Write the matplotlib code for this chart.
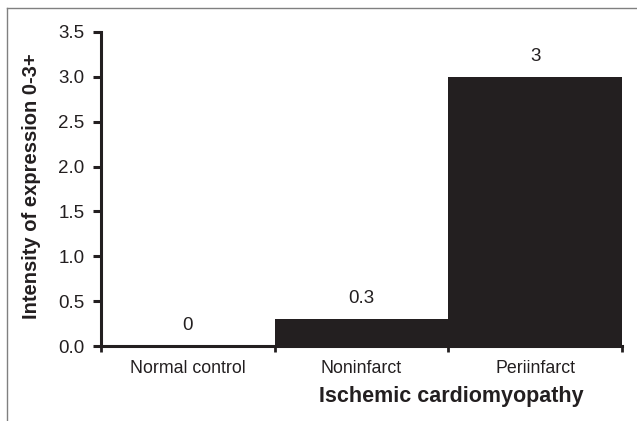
import matplotlib
matplotlib.use('Agg')
import matplotlib.pyplot as plt
from matplotlib.lines import Line2D

categories = ["Normal control", "Noninfarct", "Periinfarct"]
values = [0, 0.3, 3]
value_labels = ["0", "0.3", "3"]
yticks = [0.0, 0.5, 1.0, 1.5, 2.0, 2.5, 3.0, 3.5]

plt.rcParams['font.family'] = ['Liberation Sans', 'DejaVu Sans']
ink = '#231f20'

fig = plt.figure(figsize=(6.37, 4.21), dpi=100)
ax = fig.add_axes([0.1586, 0.178, 0.818, 0.746])

xs = list(range(len(categories)))
ax.bar(xs, values, width=1.0, color=ink, edgecolor='none')

# value labels above bars
for x, v, lab in zip(xs, values, value_labels):
    ax.annotate(lab, (x, v), xytext=(0, 15), textcoords='offset points',
                ha='center', va='center', fontsize=13.5, color=ink)

ax.set_xlim(-0.5, len(categories) - 0.5)
ax.set_ylim(0, 3.5)
ax.set_yticks(yticks)
ax.set_yticklabels(["%.1f" % t for t in yticks])

# category ticks sit at bar boundaries, labels in the middle
ax.set_xticks([x - 0.5 for x in xs] + [xs[-1] + 0.5])
ax.set_xticklabels([])
ax.set_xticks(xs, minor=True)
ax.set_xticklabels(categories, minor=True)
ax.tick_params(axis='x', which='minor', length=0, pad=10, labelsize=12.8, colors=ink)
ax.tick_params(axis='x', which='major', length=4, width=2, direction='out', color=ink)
ax.tick_params(axis='y', length=6, width=2.2, direction='out', labelsize=13.5,
               color=ink, labelcolor=ink, pad=6)

for s in ['top', 'right']:
    ax.spines[s].set_visible(False)
for s in ['left', 'bottom']:
    ax.spines[s].set_linewidth(2.2)
    ax.spines[s].set_color(ink)

ax.set_ylabel("Intensity of expression 0-3+", fontsize=14.5, fontweight='bold', color=ink)
ax.yaxis.set_label_coords(-0.115, 0.51)
# group label sits under the two ischemic categories
ax.set_xlabel("Ischemic cardiomyopathy", fontsize=15.5, fontweight='bold', color=ink)
ax.xaxis.set_label_coords(0.672, -0.127)

# partial frame (top and left edges of the original panel)
fig.add_artist(Line2D([7/637, 1.0], [1 - 7.5/421, 1 - 7.5/421], color='#808080', lw=1))
fig.add_artist(Line2D([7/637, 7/637], [0, 1 - 7.5/421], color='#808080', lw=1))

fig.savefig('out.png', dpi=100)
